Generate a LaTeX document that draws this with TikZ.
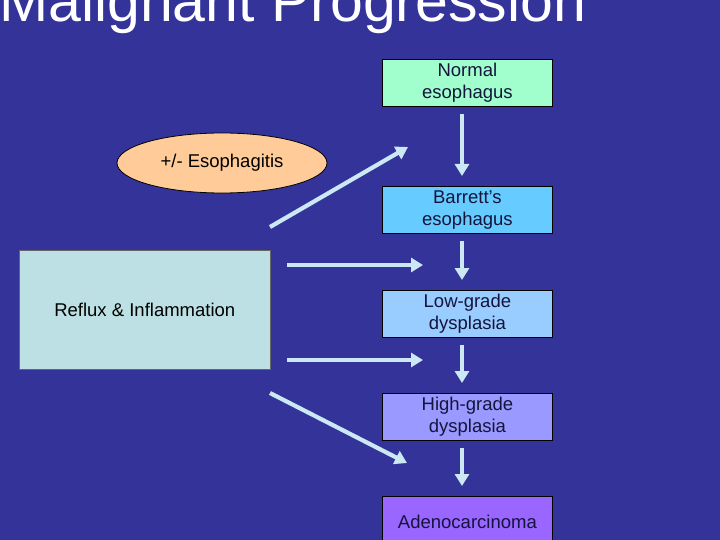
\documentclass[tikz,border=0pt]{standalone}
\usepackage{fontspec}
\setmainfont{Liberation Sans}
\usetikzlibrary{arrows.meta,shapes.geometric}

\definecolor{slidebg}{HTML}{333399}
\definecolor{arrowcol}{HTML}{CCE8F4}
\definecolor{boxtext}{HTML}{14143C}

\begin{document}
\begin{tikzpicture}[x=1pt,y=-1pt]
\tikzset{stage/.style={draw=black,line width=0.8pt,minimum width=170pt,minimum height=47pt,
  align=center,text=boxtext,font=\fontsize{18.5}{22}\selectfont,inner sep=0pt}}
\tikzset{flow/.style={draw=arrowcol,line width=4.2pt,-{Triangle[width=14pt,length=12pt]}}}
\tikzset{down/.style={flow,shorten <=7pt,shorten >=10pt}}

\fill[slidebg] (0,0) rectangle (720,540);
\useasboundingbox (0,0) rectangle (720,540);

\node[anchor=base west,inner sep=0pt,text=white,font=\fontsize{59}{59}\selectfont] (title) at (-1,22) {Malignant Progression};

\node[stage,fill={rgb,255:red,160;green,255;blue,204},anchor=north west] (normal) at (382,59) {Normal\\esophagus};
\node[stage,fill={rgb,255:red,102;green,204;blue,255},anchor=north west] (barrett) at (382,186) {Barrett’s\\esophagus};
\node[stage,fill={rgb,255:red,153;green,204;blue,255},anchor=north west] (low) at (382,290) {Low-grade\\dysplasia};
\node[stage,fill={rgb,255:red,153;green,153;blue,255},anchor=north west] (high) at (382,393) {High-grade\\dysplasia};
\node[stage,fill={rgb,255:red,153;green,102;blue,255},anchor=north west,minimum height=50pt] (adeno) at (382,496) {Adenocarcinoma};

\node[draw=black!60,line width=0.6pt,fill={rgb,255:red,188;green,224;blue,228},minimum width=251pt,minimum height=119pt,
  text=black,font=\fontsize{18.5}{22}\selectfont,anchor=north west] (reflux) at (19,250) {Reflux \& Inflammation};

\node[ellipse,draw=black,line width=0.8pt,fill={rgb,255:red,255;green,204;blue,153},minimum width=210pt,minimum height=60pt,
  text=black,font=\fontsize{18.5}{22}\selectfont] (esoph) at (222,163) {+/- Esophagitis};

% free ends of the side arrows
\coordinate (up0) at (270,227);
\coordinate (up1) at (408,147);
\coordinate (mid0) at (287,265);
\coordinate (mid1) at (423,265);
\coordinate (low0) at (287,360);
\coordinate (low1) at (423,360);
\coordinate (dn0) at (270,393);
\coordinate (dn1) at (407,463);

\draw[down] (normal.south -| 462,0) -- (barrett.north -| 462,0);
\draw[down] (barrett.south -| 462,0) -- (low.north -| 462,0);
\draw[down] (low.south -| 462,0) -- (high.north -| 462,0);
\draw[down] (high.south -| 462,0) -- (adeno.north -| 462,0);

\draw[flow] (up0) -- (up1);
\draw[flow] (mid0) -- (mid1);
\draw[flow] (low0) -- (low1);
\draw[flow] (dn0) -- (dn1);

\end{tikzpicture}
\end{document}
